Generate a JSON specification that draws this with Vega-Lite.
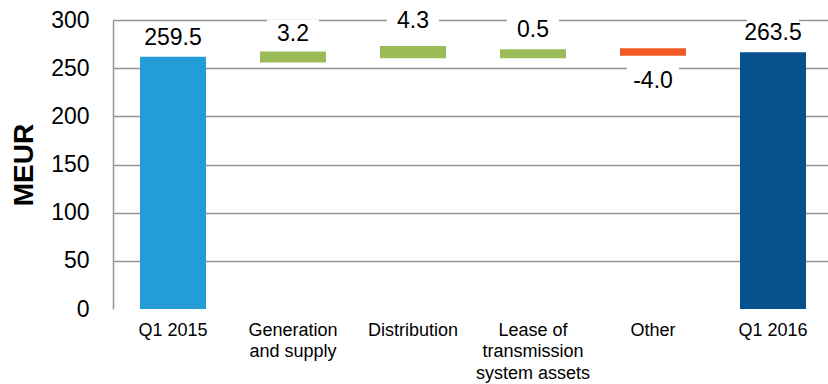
{
  "$schema": "https://vega.github.io/schema/vega-lite/v6.json",
  "width": 720,
  "height": 289,
  "autosize": {"type": "none"},
  "padding": {"left": 113, "top": 20, "right": 0, "bottom": 75},
  "background": "white",
  "config": {
    "view": {"stroke": null},
    "font": "Liberation Sans",
    "text": {"font": "Liberation Sans"}
  },
  "data": {
    "values": [
      {"category": "Q1 2015", "type": "start", "start": 0, "end": 261.9, "label": "259.5", "labelY": 281.3},
      {"category": "Generation and supply", "type": "increase", "start": 256.0, "end": 267.2, "label": "3.2", "labelY": 285},
      {"category": "Distribution", "type": "increase", "start": 260.2, "end": 273.0, "label": "4.3", "labelY": 299},
      {"category": "Lease of transmission system assets", "type": "increase", "start": 260.2, "end": 269.6, "label": "0.5", "labelY": 289.6},
      {"category": "Other", "type": "decrease", "start": 263.0, "end": 270.6, "label": "-4.0", "labelY": 236.7},
      {"category": "Q1 2016", "type": "end", "start": 0, "end": 266.5, "label": "263.5", "labelY": 286}
    ]
  },
  "encoding": {
    "x": {
      "field": "category",
      "type": "nominal",
      "sort": null,
      "scale": {"paddingInner": 0.45, "paddingOuter": 0.225},
      "axis": {
        "title": null,
        "domain": false,
        "ticks": false,
        "labelAngle": 0,
        "labelFontSize": 18,
        "labelLineHeight": 21.5,
        "labelPadding": 12,
        "labelColor": "#000000",
        "labelFont": "Liberation Sans",
        "labelExpr": "datum.label == 'Generation and supply' ? ['Generation', 'and supply'] : datum.label == 'Lease of transmission system assets' ? ['Lease of', 'transmission', 'system assets'] : datum.label"
      }
    }
  },
  "layer": [
    {
      "mark": {"type": "bar"},
      "encoding": {
        "y": {
          "field": "start",
          "type": "quantitative",
          "scale": {"domain": [0, 300], "nice": false, "zero": false},
          "axis": {
            "title": "MEUR",
            "titleFontSize": 28,
            "titleFontWeight": "bold",
            "titleColor": "#000000",
            "titleFont": "Liberation Sans",
            "titlePadding": 12,
            "values": [0, 50, 100, 150, 200, 250, 300],
            "grid": true,
            "gridColor": "#939393",
            "gridWidth": 1.5,
            "gridOpacity": {"condition": {"test": "datum.value === 0", "value": 0}, "value": 1},
            "domainColor": "#939393",
            "domainWidth": 1.5,
            "ticks": false,
            "labelPadding": 24,
            "labelFontSize": 23,
            "labelColor": "#000000",
            "labelFont": "Liberation Sans"
          }
        },
        "y2": {"field": "end"},
        "color": {
          "field": "type",
          "type": "nominal",
          "scale": {
            "domain": ["start", "increase", "decrease", "end"],
            "range": ["#249CD7", "#9BBB59", "#F15A24", "#07518F"]
          },
          "legend": null
        }
      }
    },
    {
      "mark": {"type": "tick", "color": "white", "opacity": 1, "thickness": 30, "size": 52},
      "encoding": {
        "y": {"field": "labelY", "type": "quantitative"}
      }
    },
    {
      "mark": {"type": "text", "fontSize": 23, "baseline": "middle", "align": "center", "color": "#000000", "font": "Liberation Sans"},
      "encoding": {
        "y": {"field": "labelY", "type": "quantitative"},
        "text": {"field": "label"}
      }
    }
  ]
}
